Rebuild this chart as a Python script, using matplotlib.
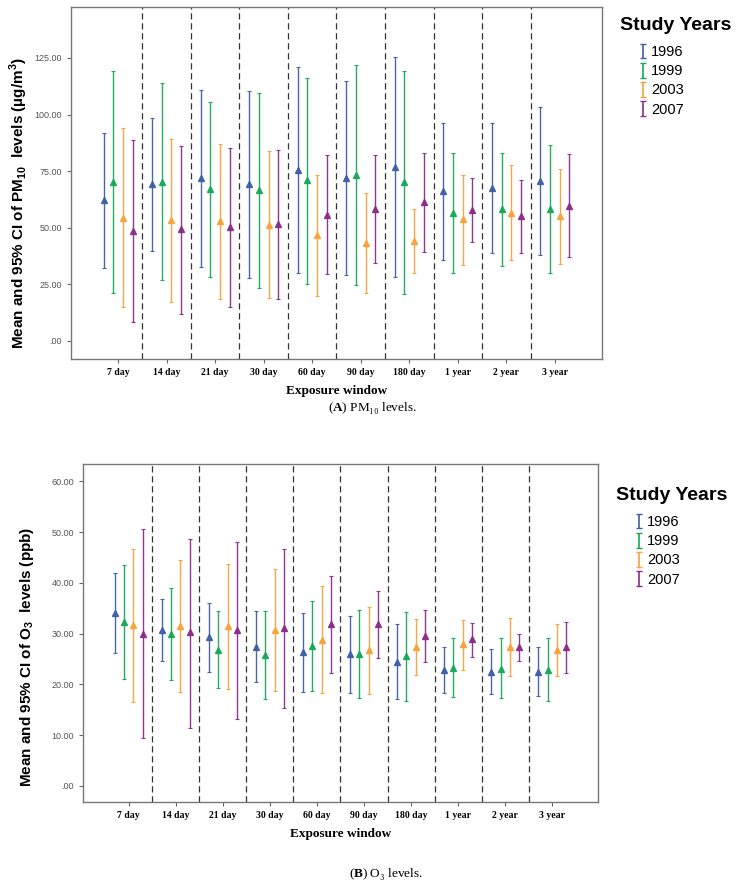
import numpy as np
import matplotlib
matplotlib.use("Agg")
import matplotlib.pyplot as plt

plt.rcParams.update({
    "font.family": "Liberation Sans",
    "mathtext.fontset": "custom",
    "mathtext.rm": "Liberation Sans:bold",
    "mathtext.bf": "Liberation Serif:bold",
    "axes.linewidth": 1.0,
})

windows = ["7 day", "14 day", "21 day", "30 day", "60 day", "90 day",
           "180 day", "1 year", "2 year", "3 year"]
years = ["1996", "1999", "2003", "2007"]
colors = ["#3f5ea8", "#17a85a", "#f7a23a", "#8a2c88"]

# PM10: mean, lower and upper 95% CI, one row per study year
pm_mean = [
    [62.1, 69.1, 71.8, 69.1, 75.4, 72.1, 76.9, 66.2, 67.5, 70.6],
    [70.1, 70.4, 67.1, 66.5, 71.0, 73.2, 70.0, 56.6, 58.1, 58.4],
    [54.4, 53.2, 52.8, 51.3, 46.6, 43.1, 44.3, 53.7, 56.5, 55.1],
    [48.7, 49.3, 50.1, 51.5, 55.7, 58.4, 61.5, 57.9, 55.0, 59.7],
]
pm_low = [
    [32.2, 39.7, 32.8, 27.8, 30.0, 29.0, 28.4, 35.9, 38.7, 38.1],
    [21.2, 26.8, 28.4, 23.4, 25.3, 24.9, 20.6, 29.9, 33.1, 30.1],
    [14.9, 17.2, 18.4, 19.1, 19.7, 21.0, 30.1, 33.7, 35.6, 34.0],
    [8.2, 12.1, 15.0, 18.7, 29.7, 34.6, 39.4, 43.7, 39.0, 36.9],
]
pm_high = [
    [91.9, 98.5, 110.9, 110.4, 120.9, 115.0, 125.3, 96.3, 96.3, 103.2],
    [119.3, 114.0, 105.6, 109.7, 116.3, 121.8, 119.3, 83.1, 82.8, 86.5],
    [94.1, 89.3, 87.1, 84.0, 73.4, 65.4, 58.4, 73.5, 77.5, 76.0],
    [88.8, 86.3, 85.4, 84.4, 81.9, 82.2, 83.1, 71.9, 71.0, 82.6],
]

# O3
o3_mean = [
    [34.1, 30.7, 29.3, 27.4, 26.4, 25.9, 24.4, 22.8, 22.5, 22.5],
    [32.3, 29.9, 26.8, 25.8, 27.5, 25.9, 25.6, 23.3, 23.1, 22.8],
    [31.6, 31.5, 31.4, 30.7, 28.7, 26.7, 27.3, 27.9, 27.4, 26.7],
    [30.0, 30.2, 30.6, 31.0, 31.9, 31.9, 29.6, 28.9, 27.3, 27.3],
]
o3_low = [
    [26.1, 24.5, 22.5, 20.4, 18.4, 18.2, 17.0, 18.3, 18.0, 17.6],
    [21.1, 20.9, 19.2, 17.1, 18.7, 17.3, 16.7, 17.5, 17.3, 16.7],
    [16.6, 18.4, 19.1, 18.7, 18.2, 18.0, 21.9, 22.9, 21.7, 21.7],
    [9.5, 11.4, 13.2, 15.3, 22.3, 25.2, 24.4, 25.4, 24.6, 22.3],
]
o3_high = [
    [41.9, 36.8, 36.1, 34.5, 34.1, 33.4, 31.8, 27.3, 26.9, 27.3],
    [43.5, 38.9, 34.5, 34.5, 36.5, 34.6, 34.3, 29.1, 29.1, 29.1],
    [46.6, 44.5, 43.7, 42.7, 39.3, 35.3, 32.8, 32.7, 33.1, 31.8],
    [50.6, 48.7, 48.0, 46.6, 41.4, 38.3, 34.6, 32.0, 30.0, 32.2],
]

pm_ticks = [0, 25, 50, 75, 100, 125]
o3_ticks = [0, 10, 20, 30, 40, 50, 60]
offsets = [-0.3, -0.1, 0.1, 0.3]


def draw_panel(ax, means, lows, highs, ticks, ylim, ylabel, label_y, label_x):
    x = np.arange(len(windows))
    for i in range(len(years)):
        m = np.array(means[i])
        err = [m - np.array(lows[i]), np.array(highs[i]) - m]
        ax.errorbar(x + offsets[i], m, yerr=err, fmt="^", color=colors[i],
                    ecolor=colors[i], elinewidth=1.0, capsize=1.5, capthick=0.8,
                    markersize=5, alpha=0.95)
    for k in range(len(windows) - 1):
        ax.axvline(k + 0.5, color="#333333", linestyle=(0, (5, 3)), linewidth=0.9)
    ax.set_xlim(-0.97, len(windows) - 0.03)
    ax.set_ylim(*ylim)
    ax.set_xticks(x)
    ax.set_xticklabels(windows, fontfamily="Liberation Serif", fontweight="bold", fontsize=7)
    ax.set_yticks(ticks)
    ax.set_yticklabels([".00" if t == 0 else f"{t:.2f}" for t in ticks],
                       fontsize=6.5, color="#555555")
    ax.tick_params(axis="both", length=3, color="#666666", width=0.8)
    for s in ax.spines.values():
        s.set_color("#777777")
    ax.set_xlabel("Exposure window", fontfamily="Liberation Serif", fontweight="bold",
                  fontsize=9.5, labelpad=6)
    ax.set_ylabel(ylabel, fontsize=11, fontweight="bold")
    ax.yaxis.set_label_coords(label_x, label_y)


def draw_legend(fig, ax, title_xy, legend_xy):
    fig.text(title_xy[0], title_xy[1], "Study Years", fontsize=14, fontweight="bold",
             va="center", ha="left")
    handles = []
    for i in range(len(years)):
        h = ax.errorbar([np.nan], [np.nan], yerr=[np.nan], fmt="none", ecolor=colors[i],
                        elinewidth=1.2, capsize=2, capthick=1.0)
        handles.append(h)
    leg = fig.legend(handles, years, loc="upper left", bbox_to_anchor=legend_xy,
                     frameon=False, fontsize=10.5, handlelength=0.5, handletextpad=0.3,
                     labelspacing=0.35, borderpad=0)
    return leg


fig = plt.figure(figsize=(7.39, 8.86), dpi=100)
W, H = 739.0, 886.0

ax1 = fig.add_axes([71 / W, 1 - 359 / H, 531 / W, 352 / H])
draw_panel(ax1, pm_mean, pm_low, pm_high, pm_ticks, (-8, 147.5),
           r"Mean and 95% CI of PM$_{10}$  levels (µg/m$^{3}$)", 0.443, -0.078)
draw_legend(fig, ax1, (620 / W, 1 - 25 / H), (632 / W, 1 - 38 / H))

ax2 = fig.add_axes([83 / W, 1 - 802 / H, 515 / W, 338 / H])
draw_panel(ax2, o3_mean, o3_low, o3_high, o3_ticks, (-3.2, 63.4),
           r"Mean and 95% CI of O$_{3}$  levels (ppb)", 0.43, -0.092)
draw_legend(fig, ax2, (616 / W, 1 - 495 / H), (628 / W, 1 - 508 / H))

fig.text(372 / W, 1 - 408 / H, r"($\mathbf{A}$) PM₁₀ levels.", fontfamily="Liberation Serif",
         fontsize=9.5, ha="center", va="center")
fig.text(386 / W, 1 - 874 / H, r"($\mathbf{B}$) O₃ levels.", fontfamily="Liberation Serif",
         fontsize=9.5, ha="center", va="center")

fig.savefig("out.png", dpi=100)
